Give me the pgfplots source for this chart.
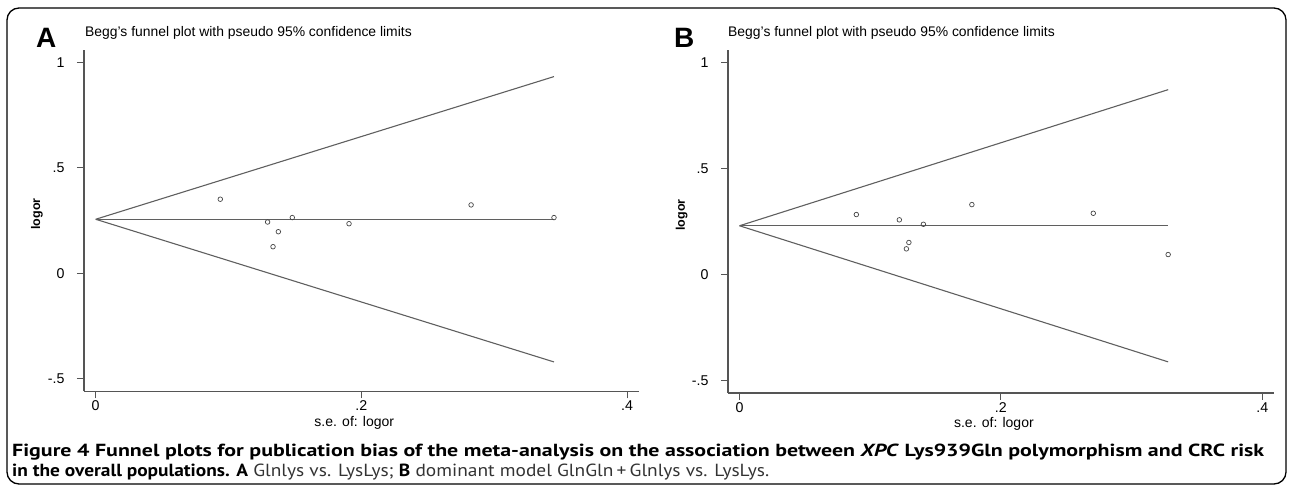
\documentclass[border=0pt]{standalone}
\usepackage{pgfplots}
\pgfplotsset{compat=1.18}
\usepackage{fontspec}
\usepackage{graphicx}
\setmainfont{Liberation Sans}
\newfontfamily\capfont{PT Sans}
\definecolor{axgray}{RGB}{85,85,85}
\definecolor{lngray}{RGB}{95,95,95}
\definecolor{mkgray}{RGB}{70,70,70}

\pgfplotsset{
  stataaxis/.style={
    scale only axis,
    anchor=south west,
    xmin=-0.0088, xmax=0.409,
    ymin=-0.56, ymax=1.058,
    axis lines=left,
    axis line style={-, draw=axgray, line width=1.1pt},
    xtick={0,0.2,0.4}, xticklabels={0,.2,.4},
    ytick={-0.5,0,0.5,1}, yticklabels={-.5,0,.5,1},
    tick align=outside,
    major tick length=7pt,
    tick style={draw=axgray, line width=1.1pt},
    ticklabel style={font=\fontsize{14.2}{16}\selectfont, text=black},
    yticklabel style={xshift=-9pt},
    xticklabel style={yshift=1pt},
    xlabel={s.e. of: logor},
    ylabel={\bfseries logor},
    xlabel style={font=\fontsize{14}{16}\selectfont, at={(axis description cs:0.487,0)}, anchor=north, yshift=-21pt},
    ylabel style={font=\fontsize{12.5}{14}\selectfont, at={(axis description cs:-0.085,0.52)}, anchor=center},
    clip=false,
    funnel/.style={draw=lngray, line width=1.1pt, no marks},
    pts/.style={only marks, mark=o, mark size=2.3pt, mark options={draw=mkgray, line width=0.7pt}},
  }
}

\begin{document}
\begin{tikzpicture}
\path[use as bounding box] (0pt,0pt) rectangle (1292pt,500pt);
\draw[black, line width=1.3pt, rounded corners=12pt] (7pt,492pt) rectangle (1286pt,16pt);

% Panel letters and titles
\node[anchor=base west, inner sep=0pt, font=\fontsize{28}{30}\selectfont\bfseries] at (36pt,452pt) {A};
\node[anchor=base west, inner sep=0pt, font=\fontsize{28}{30}\selectfont\bfseries] at (674pt,452pt) {B};
\node[anchor=west, inner sep=0pt, font=\fontsize{13.9}{16}\selectfont] at (85pt,467pt) {Begg's funnel plot with pseudo 95\% confidence limits};
\node[anchor=west, inner sep=0pt, font=\fontsize{13.9}{16}\selectfont] at (728pt,467pt) {Begg's funnel plot with pseudo 95\% confidence limits};

% Panel A
\begin{axis}[stataaxis, at={(84pt,108.5pt)}, width=555pt, height=341.5pt]
\addplot[funnel] coordinates {(0,0.256) (0.345,0.932)};
\addplot[funnel] coordinates {(0,0.256) (0.345,-0.420)};
\addplot[funnel] coordinates {(0,0.256) (0.345,0.256)};
\addplot[pts] coordinates {
(0.0938,0.351) (0.1294,0.243) (0.1480,0.264) (0.1375,0.197)
(0.1335,0.126) (0.1907,0.235) (0.2826,0.324) (0.3450,0.264)};
\end{axis}

% Panel B
\begin{axis}[stataaxis, at={(728pt,107pt)}, width=546pt, height=342.5pt]
\addplot[funnel] coordinates {(0,0.230) (0.328,0.873)};
\addplot[funnel] coordinates {(0,0.230) (0.328,-0.413)};
\addplot[funnel] coordinates {(0,0.230) (0.328,0.230)};
\addplot[pts] coordinates {
(0.0894,0.283) (0.1223,0.258) (0.1407,0.237) (0.1296,0.151)
(0.1277,0.121) (0.1778,0.330) (0.2707,0.289) (0.3280,0.094)};
\end{axis}

% Caption
\node[anchor=base west, inner sep=0pt] at (12pt,43pt) {\resizebox{1252pt}{12.5pt}{\capfont\bfseries Figure 4 Funnel plots for publication bias of the meta-analysis on the association between \textit{XPC} Lys939Gln polymorphism and CRC risk}};
\node[anchor=base west, inner sep=0pt] at (12pt,23pt) {\resizebox{757pt}{12.5pt}{\capfont{\bfseries in the overall populations. A} {\color{black!80}Glnlys vs. LysLys;} {\bfseries B} {\color{black!80}dominant model GlnGln\,+\,Glnlys vs. LysLys.}}};
\end{tikzpicture}
\end{document}
